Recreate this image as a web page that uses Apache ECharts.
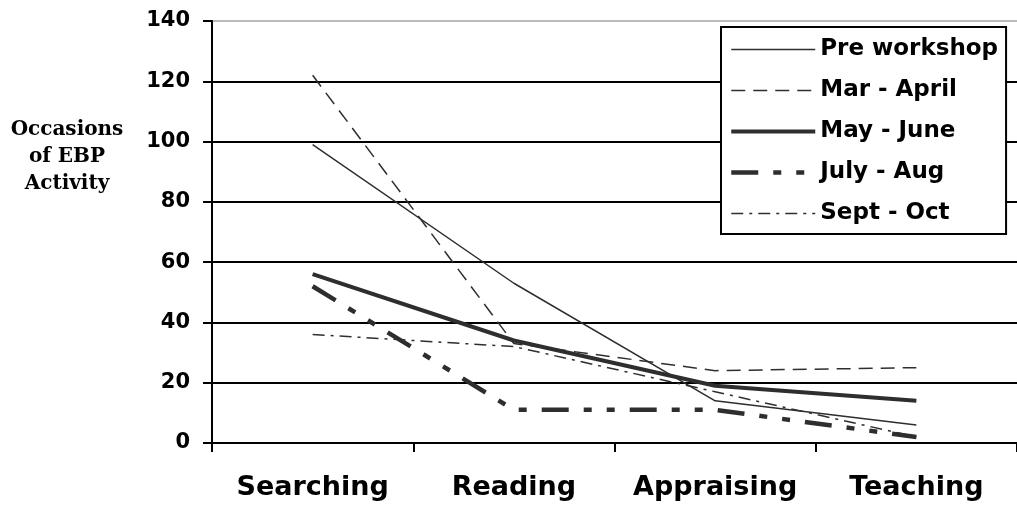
<!DOCTYPE html>
<html>
<head>
<meta charset="utf-8">
<script src="https://cdn.jsdelivr.net/npm/echarts@6/dist/echarts.min.js"></script>
<style>
html,body{margin:0;padding:0;background:#fff;}
#chart{width:1017px;height:508px;}
</style>
</head>
<body>
<div id="chart"></div>
<script>
const categories = ['Searching', 'Reading', 'Appraising', 'Teaching'];
const yTicks = { min: 0, max: 140, interval: 20 };
const seriesNames = ['Pre workshop', 'Mar - April', 'May - June', 'July - Aug', 'Sept - Oct'];
const preWorkshop = [99, 53, 14, 6];
const marApril = [122, 33, 24, 25];
const mayJune = [56, 34, 19, 14];
const julyAug = [52, 11, 11, 2];
const septOct = [36, 32, 17, 2];
const yAxisTitle = 'Occasions\nof EBP\nActivity';

const lineColor = '#2e2e2e';
const styles = [
  { width: 1.5, type: 'solid' },
  { width: 1.5, type: [14, 8] },
  { width: 4, type: 'solid' },
  { width: 4.5, type: [27, 15, 8, 15, 8, 15] },
  { width: 1.5, type: [12, 6, 3, 6] }
];
const values = [preWorkshop, marApril, mayJune, julyAug, septOct];

const chart = echarts.init(document.getElementById('chart'), null, { renderer: 'canvas' });
const sansBold = '"DejaVu Sans", sans-serif';

chart.setOption({
  animation: false,
  backgroundColor: '#fff',
  grid: { left: 212, top: 21, width: 812, height: 422, containLabel: false },
  graphic: [{
    type: 'text',
    x: 67,
    y: 116,
    style: {
      text: yAxisTitle,
      fontFamily: '"DejaVu Serif", serif',
      fontWeight: 'bold',
      fontSize: 20,
      lineHeight: 27,
      textAlign: 'center',
      textVerticalAlign: 'top',
      fill: '#000'
    }
  }],
  legend: {
    data: seriesNames,
    orient: 'vertical',
    left: 721,
    top: 27,
    padding: [9, 8, 7, 8],
    itemGap: 14,
    itemWidth: 84,
    itemHeight: 14,
    backgroundColor: '#fff',
    borderColor: '#000',
    borderWidth: 2,
    lineStyle: { width: 'inherit' },
    itemStyle: { opacity: 0, color: 'transparent', borderWidth: 0 },
    textStyle: {
      fontFamily: sansBold,
      fontWeight: 'bold',
      fontSize: 23,
      lineHeight: 27,
      color: '#000'
    }
  },
  xAxis: {
    type: 'category',
    data: categories,
    boundaryGap: true,
    axisLine: { show: true, lineStyle: { color: '#000', width: 2 } },
    axisTick: { show: true, alignWithLabel: false, length: 9, lineStyle: { color: '#000', width: 2 } },
    axisLabel: {
      interval: 0,
      margin: 31,
      fontFamily: sansBold,
      fontWeight: 'bold',
      fontSize: 27,
      color: '#000'
    },
    splitLine: { show: false }
  },
  yAxis: {
    type: 'value',
    min: yTicks.min,
    max: yTicks.max,
    interval: yTicks.interval,
    axisLine: { show: true, lineStyle: { color: '#000', width: 2 } },
    axisTick: { show: true, length: 9, lineStyle: { color: '#000', width: 2 } },
    axisLabel: {
      margin: 22,
      fontFamily: sansBold,
      fontWeight: 'bold',
      fontSize: 21,
      color: '#000'
    },
    splitLine: {
      show: true,
      lineStyle: { color: ['#000', '#000', '#000', '#000', '#000', '#000', '#000', '#bbb'], width: 2 }
    }
  },
  series: seriesNames.map((name, i) => ({
    name: name,
    type: 'line',
    data: values[i],
    symbol: 'none',
    smooth: false,
    z: 3 + i,
    lineStyle: { color: lineColor, width: styles[i].width, type: styles[i].type, cap: 'butt' },
    itemStyle: { color: lineColor }
  }))
});
</script>
</body>
</html>
